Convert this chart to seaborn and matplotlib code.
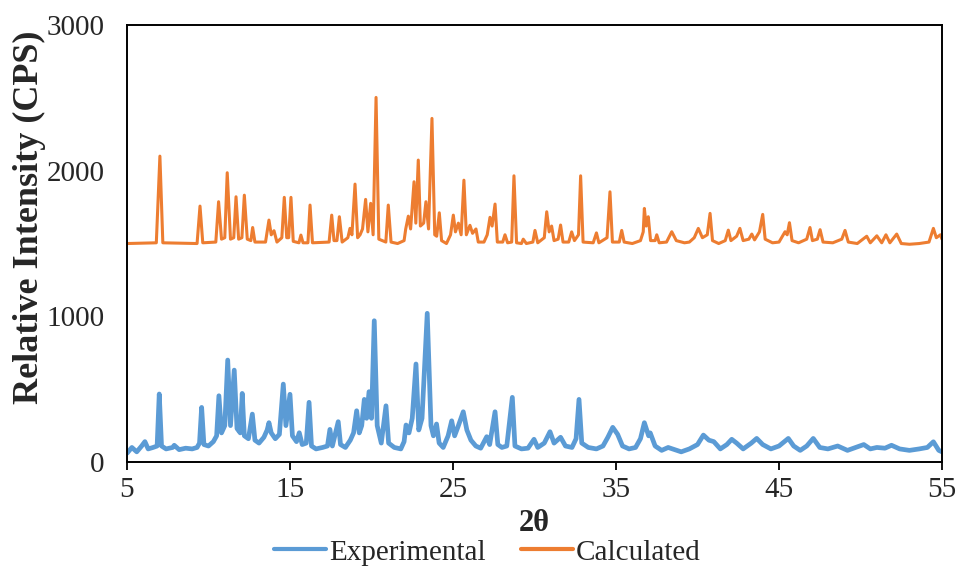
import matplotlib
matplotlib.use("Agg")
import matplotlib.pyplot as plt
import seaborn as sns
import pandas as pd

# Measured powder pattern (2-theta in degrees, counts per second)
exp_two_theta = [
    5.0, 5.3, 5.6, 5.9, 6.1, 6.3, 6.6, 6.85, 6.98, 7.12, 7.4, 7.8, 7.9, 8.2, 8.6,
    9.0, 9.3, 9.45, 9.58, 9.72, 10.0, 10.3, 10.5, 10.64, 10.8, 11.0, 11.18, 11.35,
    11.58, 11.75, 11.95, 12.07, 12.2, 12.45, 12.69, 12.85, 13.1, 13.4, 13.6, 13.71,
    13.85, 14.1, 14.35, 14.59, 14.75, 15.0, 15.15, 15.4, 15.57, 15.75, 16.0, 16.17,
    16.32, 16.6, 17.0, 17.3, 17.45, 17.6, 17.96, 18.1, 18.4, 18.7, 18.9, 19.09,
    19.25, 19.4, 19.56, 19.7, 19.85, 20.0, 20.17, 20.35, 20.6, 20.89, 21.05, 21.4,
    21.8, 22.0, 22.12, 22.3, 22.5, 22.73, 22.9, 23.1, 23.42, 23.65, 23.8, 23.99,
    24.15, 24.4, 24.7, 24.92, 25.1, 25.3, 25.63, 25.85, 26.1, 26.4, 26.7, 27.07,
    27.25, 27.58, 27.75, 28.0, 28.3, 28.64, 28.8, 29.2, 29.6, 29.97, 30.2, 30.6,
    30.95, 31.2, 31.6, 31.9, 32.3, 32.55, 32.73, 32.9, 33.3, 33.8, 34.2, 34.5,
    34.8, 35.1, 35.4, 35.8, 36.2, 36.5, 36.74, 37.0, 37.1, 37.4, 37.8, 38.2, 38.6,
    39.0, 39.5, 40.0, 40.36, 40.7, 41.0, 41.4, 41.8, 42.1, 42.4, 42.8, 43.3, 43.63,
    44.0, 44.5, 45.0, 45.57, 45.9, 46.3, 46.7, 47.1, 47.5, 48.0, 48.6, 49.2, 49.7,
    50.2, 50.6, 51.0, 51.5, 51.9, 52.4, 53.0, 53.6, 54.1, 54.47, 54.8, 55.0,
]
exp_intensity = [
    60, 100, 70, 110, 140, 90, 100, 110, 467, 110, 90, 100, 115, 85, 95,
    90, 100, 130, 375, 120, 110, 140, 180, 455, 200, 250, 700, 250,
    631, 230, 200, 471, 180, 160, 329, 150, 130, 170, 220, 270,
    200, 160, 190, 535, 250, 465, 180, 140, 201, 120, 130, 410,
    110, 90, 100, 110, 224, 110, 277, 120, 100, 150, 200, 352,
    200, 250, 430, 300, 483, 300, 970, 250, 130, 386, 130, 100,
    90, 140, 254, 200, 300, 673, 220, 300, 1021, 250, 180, 261,
    130, 100, 180, 283, 180, 240, 345, 220, 150, 110, 95, 174,
    120, 345, 120, 100, 110, 444, 110, 90, 95, 156, 100, 130,
    208, 130, 170, 110, 100, 160, 430, 130, 100, 90, 110, 170,
    238, 190, 110, 90, 100, 160, 270, 180, 200, 110, 80, 100, 85,
    70, 90, 120, 185, 150, 140, 90, 120, 156, 130, 90, 130, 162,
    120, 90, 110, 162, 110, 80, 110, 162, 100, 90, 110, 80, 100,
    120, 90, 100, 95, 115, 90, 80, 90, 100, 139, 80, 70,
]

# Simulated pattern from the single-crystal structure, offset upward
calc_two_theta = [
    5.0, 6.8, 7.02, 7.2, 9.3, 9.48, 9.65, 10.45, 10.62, 10.8, 11.0, 11.15, 11.35,
    11.55, 11.69, 11.85, 12.05, 12.2, 12.38, 12.6, 12.71, 12.85, 13.5, 13.71,
    13.85, 14.02, 14.2, 14.5, 14.65, 14.8, 14.92, 15.06, 15.2, 15.55, 15.67, 15.8,
    16.1, 16.23, 16.38, 17.4, 17.56, 17.7, 17.88, 18.03, 18.2, 18.55, 18.68, 18.8,
    18.99, 19.15, 19.3, 19.45, 19.64, 19.78, 19.95, 20.1, 20.28, 20.45, 20.88,
    21.03, 21.2, 21.6, 22.0, 22.1, 22.26, 22.4, 22.61, 22.72, 22.87, 23.0, 23.2,
    23.34, 23.5, 23.71, 23.88, 24.0, 24.16, 24.3, 24.6, 24.85, 25.02, 25.15,
    25.33, 25.5, 25.67, 25.82, 26.04, 26.2, 26.41, 26.55, 26.9, 27.1, 27.27, 27.4,
    27.58, 27.72, 28.05, 28.19, 28.35, 28.6, 28.74, 28.9, 29.2, 29.31, 29.5, 29.9,
    30.03, 30.2, 30.6, 30.75, 30.9, 31.05, 31.2, 31.45, 31.6, 31.75, 32.1, 32.28,
    32.45, 32.7, 32.83, 32.98, 33.6, 33.8, 33.95, 34.45, 34.63, 34.78, 35.2, 35.35,
    35.5, 36.0, 36.5, 36.67, 36.74, 36.85, 36.98, 37.12, 37.4, 37.5, 37.65, 38.1,
    38.42, 38.7, 39.2, 39.5, 39.8, 40.05, 40.3, 40.6, 40.77, 40.92, 41.3, 41.7,
    41.89, 42.05, 42.4, 42.6, 42.8, 43.15, 43.33, 43.5, 43.8, 44.0, 44.15, 44.6,
    45.0, 45.37, 45.5, 45.64, 45.8, 46.2, 46.7, 46.9, 47.05, 47.35, 47.52, 47.7,
    48.3, 48.85, 49.05, 49.25, 49.8, 50.38, 50.6, 51.0, 51.3, 51.56, 51.8, 52.22,
    52.5, 53.0, 53.6, 54.2, 54.47, 54.65, 54.9, 55.0,
]
calc_intensity = [
    1500, 1505, 2100, 1505, 1500, 1757, 1505, 1510, 1787, 1530, 1540, 1986, 1530,
    1540, 1821, 1530, 1540, 1832, 1530, 1520, 1610, 1510, 1510, 1661,
    1560, 1588, 1510, 1540, 1817, 1540, 1540, 1817, 1515, 1505, 1558, 1505,
    1505, 1764, 1505, 1510, 1695, 1520, 1520, 1684, 1510, 1540, 1604, 1560,
    1908, 1540, 1560, 1600, 1803, 1580, 1776, 1560, 2503, 1530, 1510,
    1764, 1510, 1500, 1520, 1600, 1688, 1600, 1924, 1640, 2073, 1620, 1640,
    1787, 1600, 2359, 1560, 1550, 1711, 1520, 1500, 1560, 1695, 1580,
    1640, 1560, 1935, 1560, 1625, 1570, 1600, 1510, 1510, 1560, 1680, 1620,
    1771, 1510, 1510, 1560, 1505, 1510, 1965, 1505, 1500, 1530, 1500, 1510,
    1590, 1505, 1540, 1718, 1580, 1620, 1520, 1530, 1627, 1510, 1510, 1580,
    1520, 1560, 1965, 1510, 1505, 1573, 1505, 1540, 1855, 1510, 1510, 1590,
    1510, 1500, 1520, 1580, 1741, 1620, 1684, 1520, 1520, 1560, 1505, 1510,
    1581, 1520, 1505, 1510, 1540, 1604, 1540, 1560, 1707, 1520, 1500, 1520,
    1592, 1520, 1550, 1604, 1520, 1530, 1565, 1525, 1580, 1700, 1530, 1505,
    1510, 1581, 1560, 1643, 1520, 1505, 1530, 1610, 1520, 1530, 1595, 1510,
    1505, 1530, 1590, 1510, 1500, 1550, 1505, 1553, 1505, 1560, 1505, 1565,
    1500, 1495, 1500, 1510, 1604, 1540, 1560, 1530,
]

series_names = ["Experimental", "Calculated"]
series_colors = ["#5B9BD5", "#ED7D31"]
x_ticks = [5, 15, 25, 35, 45, 55]
y_ticks = [0, 1000, 2000, 3000]

df = pd.concat([
    pd.DataFrame({"two_theta": exp_two_theta, "intensity": exp_intensity,
                  "pattern": series_names[0]}),
    pd.DataFrame({"two_theta": calc_two_theta, "intensity": calc_intensity,
                  "pattern": series_names[1]}),
], ignore_index=True)

sns.set_theme(style="white")
plt.rcParams["font.family"] = ["Liberation Serif", "DejaVu Serif"]

fig = plt.figure(figsize=(9.59, 5.69), dpi=100)
ax = fig.add_axes([0.1324, 0.188, 0.8499, 0.768])

sns.lineplot(data=df, x="two_theta", y="intensity", hue="pattern",
             hue_order=series_names, palette=series_colors, sort=False,
             estimator=None, ax=ax, legend=False)
lines = ax.get_lines()
lines[0].set_linewidth(3.4)
lines[1].set_linewidth(2.2)

ax.set_xlim(x_ticks[0], x_ticks[-1])
ax.set_ylim(y_ticks[0], y_ticks[-1])
ax.set_xticks(x_ticks)
ax.set_yticks(y_ticks)
ax.tick_params(axis="x", direction="out", length=6, width=1.3, color="black",
               labelsize=21, pad=5, bottom=True)
ax.tick_params(axis="y", length=0, labelsize=21, pad=16)
for tl in ax.get_xticklabels() + ax.get_yticklabels():
    tl.set_color("#262626")

for sp in ax.spines.values():
    sp.set_visible(True)
    sp.set_color("black")
    sp.set_linewidth(1.4)

ax.set_xlabel("2θ", fontsize=22, fontweight="bold", labelpad=4)
ax.set_ylabel("Relative Intensity (CPS)", fontsize=26, fontweight="bold")
ax.yaxis.set_label_coords(-0.099, 0.56)

handles = [plt.Line2D([], [], color=c, lw=3.0) for c in series_colors]
fig.legend(handles, series_names, loc="lower center", ncol=2, frameon=False,
           bbox_to_anchor=(0.508, -0.04), fontsize=21, handlelength=1.8,
           handletextpad=0.1, columnspacing=1.2)

fig.savefig("out.png", dpi=100)
